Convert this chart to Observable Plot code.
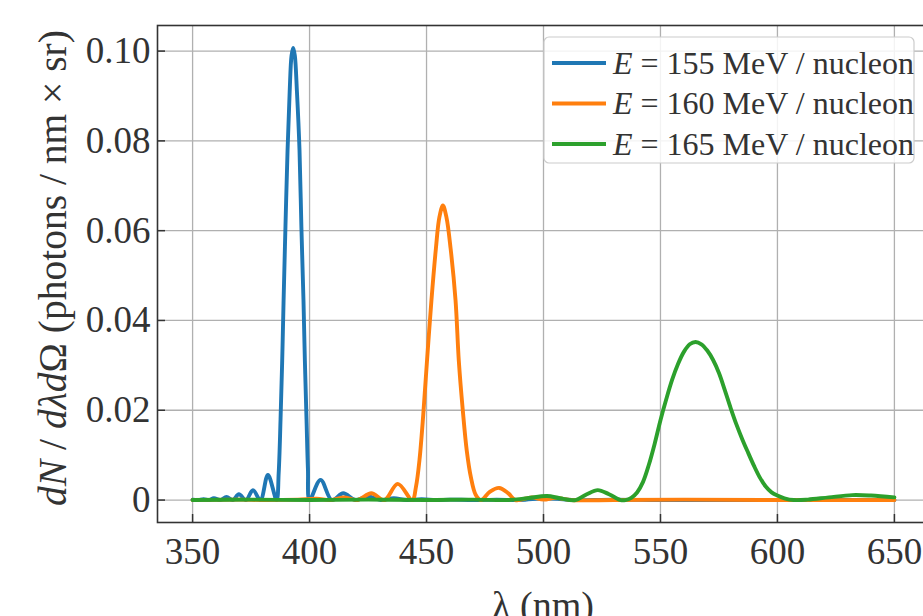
<!DOCTYPE html>
<html>
<head>
<meta charset="utf-8">
<script src="https://cdn.jsdelivr.net/npm/d3@7"></script>
<script src="https://cdn.jsdelivr.net/npm/@observablehq/plot@0.6"></script>
<style>
  html, body { margin: 0; padding: 0; background: #fff; overflow: hidden; }
  #wrap { position: relative; width: 923px; height: 616px; overflow: hidden; }
  #wrap svg { position: absolute; left: 0; top: 0; overflow: visible; max-width: none !important; width: 940px !important; height: 640px !important; }
  #wrap svg text { font-family: 'Liberation Serif', 'Times New Roman', serif !important; }
</style>
</head>
<body>
<div id="wrap"></div>
<script>
// ---- data ----
const seriesLabels = ["155", "160", "165"];
const seriesColors = ["#1f77b4", "#ff7f0e", "#2ca02c"];

const blueX = [350, 352.5, 354.7, 357, 359.1, 361.8, 364.5, 367.2, 369.8, 372.8, 375.8, 379.0, 382.2, 385.9,
  386.8, 387.6, 388.3, 388.9, 389.7, 390.6, 391.5, 392.3, 393.0, 393.7, 394.6, 395.7, 396.5, 397.4, 398.0, 398.7, 399.3, 400.0,
  404.7, 409.5, 414.4, 419.5, 425, 430.5, 436, 441.5, 448, 454, 460, 470, 480, 490, 500, 506, 512, 530, 550, 575, 600, 625, 650];
const blueY = [0.0001, 0.0000, 0.0002, 0.0000, 0.0004, 0.0000, 0.0007, 0.0000, 0.0013, 0.0000, 0.0022, 0.0000, 0.0056, 0.0000,
  0.006, 0.018, 0.031, 0.0445, 0.061, 0.078, 0.091, 0.099, 0.1007, 0.099, 0.091, 0.078, 0.061, 0.0445, 0.031, 0.018, 0.007, 0.0000,
  0.0045, 0.0000, 0.0015, 0.0000, 0.0008, 0.0000, 0.0004, 0.0000, 0.0002, 0.0000, 0.0001, 0.0000, 0.0001, 0.0000, 0.0004, 0.0003, 0.0000, 0.0001, 0.0000, 0.0000, 0.0000, 0.0000, 0.0000];

const orangeX = [350, 370, 380, 395, 403, 409, 415, 420.5, 426.4, 432, 437.7, 443.9,
  445.5, 447, 448.6, 450.2, 452.1, 454, 455.5, 457, 458.5, 460.3, 462.4, 463.8, 465.5, 467.2, 469, 471, 473.3,
  477, 481, 485, 488, 495, 500, 505, 512, 530, 560, 600, 650];
const orangeY = [0.0000, 0.0001, 0.0000, 0.0001, 0.0003, 0.0000, 0.0006, 0.0000, 0.0015, 0.0000, 0.0036, 0.0000,
  0.003, 0.009, 0.019, 0.031, 0.0445, 0.056, 0.063, 0.0656, 0.063, 0.056, 0.0445, 0.031, 0.020, 0.011, 0.005, 0.0012, 0.0000,
  0.0018, 0.0027, 0.0015, 0.0000, 0.0006, 0.0001, 0.0005, 0.0000, 0.0000, 0.0001, 0.0000, 0.0000];

const greenX = [350, 375, 400, 425, 450, 470, 485, 493, 501.5, 507, 513.7, 518.5, 523.2, 528, 533, 535,
  537.5, 540, 542.5, 545, 547.5, 550, 552.5, 555, 557.5, 560, 562.5, 565, 567.5, 570, 572.5, 575, 577.5, 580, 582.5, 585, 587.5, 590, 592.5, 595, 597.5, 600, 603,
  607, 613, 622, 632, 640, 650];
const greenY = [0.0000, 0.0001, 0.0000, 0.0001, 0.0000, 0.0001, 0.0000, 0.0004, 0.0009, 0.0004, 0.0000, 0.0013, 0.0022, 0.0013, 0.0000, 0.0000,
  0.0005, 0.0017, 0.0040, 0.0078, 0.0125, 0.0178, 0.0225, 0.0268, 0.0303, 0.0330, 0.0347, 0.0352, 0.0347, 0.0333, 0.0312, 0.0283, 0.0245, 0.0205, 0.0168, 0.0135, 0.0105, 0.0076, 0.0050, 0.0030, 0.0017, 0.0010, 0.0004,
  0.0000, 0.0001, 0.0006, 0.0011, 0.0010, 0.0006];

const xTicks = [350, 400, 450, 500, 550, 600, 650];
const yTicks = [0, 0.02, 0.04, 0.06, 0.08, 0.10];
const xLabel = "λ (nm)";

// ---- build table ----
const rows = [];
[[blueX, blueY], [orangeX, orangeY], [greenX, greenY]].forEach(([xs, ys], i) => {
  xs.forEach((x, j) => rows.push({series: seriesLabels[i], x, y: ys[j]}));
});

const font = "'Liberation Serif', 'Times New Roman', serif";
const ink = "#333";

const chart = Plot.plot({
  width: 940,
  height: 640,
  marginLeft: 157,
  marginRight: 11,
  marginTop: 25,
  marginBottom: 118,
  style: {fontFamily: font, background: "transparent", overflow: "visible"},
  x: {domain: [335, 665], label: null},
  y: {domain: [-0.005, 0.1057], label: null},
  color: {domain: seriesLabels, range: seriesColors},
  marks: [
    Plot.gridX(xTicks, {stroke: "#b0b0b0", strokeOpacity: 1, strokeWidth: 1.3}),
    Plot.gridY(yTicks, {stroke: "#b0b0b0", strokeOpacity: 1, strokeWidth: 1.3}),
    Plot.line(rows, {x: "x", y: "y", z: "series", stroke: "series", strokeWidth: 3.9, curve: "catmull-rom"}),
    Plot.frame({stroke: ink, strokeWidth: 1.6}),
    Plot.axisX({ticks: xTicks, tickSize: 8, dy: -8, tickFormat: () => "", stroke: ink, strokeWidth: 1.5, label: null}),
    Plot.axisY({ticks: yTicks, tickSize: 8, dx: 8, tickFormat: () => "", stroke: ink, strokeWidth: 1.5, label: null}),
    Plot.axisX({ticks: xTicks, tickSize: 0, tickPadding: 15, fontSize: 37, fontFamily: font, fill: ink, label: null, tickFormat: d => String(d)}),
    Plot.axisY({ticks: yTicks, tickSize: 0, tickPadding: 7, fontSize: 37, fontFamily: font, fill: ink, label: null,
      tickFormat: d => d === 0 ? "0" : d.toFixed(2)})
  ]
});

document.getElementById("wrap").appendChild(chart);
const svg = d3.select(chart);

// y axis label
const yl = svg.append("text")
  .attr("transform", "translate(66,268) rotate(-90)")
  .attr("text-anchor", "middle")
  .attr("font-family", font)
  .attr("font-size", 39.5)
  .attr("fill", ink);
yl.append("tspan").attr("font-style", "italic").text("dN");
yl.append("tspan").text(" / ");
yl.append("tspan").attr("font-style", "italic").text("dλd");
yl.append("tspan").text("Ω (photons / nm × sr)");

// x axis label
svg.append("text")
  .attr("x", 543).attr("y", 618)
  .attr("text-anchor", "middle")
  .attr("font-family", font)
  .attr("font-size", 38)
  .attr("fill", ink)
  .text(xLabel);

// legend
const lg = svg.append("g");
lg.append("rect")
  .attr("x", 544).attr("y", 37).attr("width", 370).attr("height", 126).attr("rx", 5)
  .attr("fill", "rgba(255,255,255,0.85)").attr("stroke", "#cccccc").attr("stroke-width", 1.2);
seriesLabels.forEach((lab, i) => {
  const cy = 63 + i * 40.5;
  lg.append("line")
    .attr("x1", 552).attr("x2", 606).attr("y1", cy).attr("y2", cy)
    .attr("stroke", seriesColors[i]).attr("stroke-width", 3.9);
  const t = lg.append("text")
    .attr("x", 613).attr("y", cy).attr("dy", "0.34em")
    .attr("text-anchor", "start")
    .attr("font-family", font).attr("font-size", 32).attr("fill", ink);
  t.append("tspan").attr("font-style", "italic").text("E");
  t.append("tspan").text(" = " + lab + " MeV / nucleon");
});
</script>
</body>
</html>
